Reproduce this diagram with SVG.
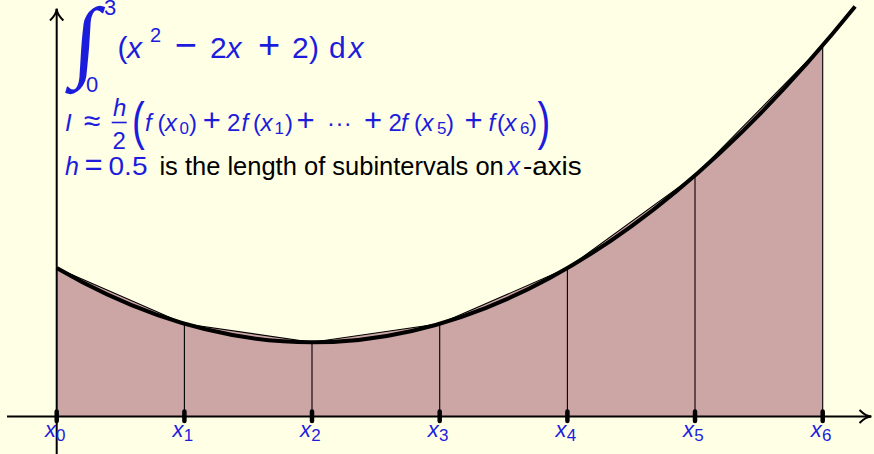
<svg xmlns="http://www.w3.org/2000/svg" width="874" height="454" viewBox="0 0 874 454">
<style>
.bg{fill:#FFFFE6}
.m{font-family:"Liberation Sans",Arial,sans-serif;fill:#1C1CDD}
.i{font-style:italic}
.c{text-anchor:middle}
.t{font-family:"Liberation Sans",Arial,sans-serif;fill:#000}
.v{stroke:#000;stroke-width:1.1;fill:none}
.tick{stroke:#000;stroke-width:4.5;stroke-linecap:round}
.ax{stroke:#000;stroke-width:2;fill:none}
</style>
<rect class="bg" x="0" y="0" width="874" height="454"/>
<g id="area">
<polygon points="56.7,416.5 56.7,268.1 184.4,323.75 312,342.3 439.7,323.75 567.4,268.1 695,175.35 822.7,45.5 822.7,416.5" fill="#CCA5A5" stroke="none"/>
<polyline class="v" points="56.7,268.1 184.4,323.75 312,342.3 439.7,323.75 567.4,268.1 695,175.35 822.7,45.5"/>
<line class="v" x1="184.4" y1="416.5" x2="184.4" y2="323.75"/>
<line class="v" x1="312" y1="416.5" x2="312" y2="342.3"/>
<line class="v" x1="439.7" y1="416.5" x2="439.7" y2="323.75"/>
<line class="v" x1="567.4" y1="416.5" x2="567.4" y2="268.1"/>
<line class="v" x1="695" y1="416.5" x2="695" y2="175.35"/>
<line class="v" x1="822.7" y1="416.5" x2="822.7" y2="45.5"/>
</g>
<g id="curve">
<path d="M56.7,268.1 Q455.9,500.1 855.1,6.6" fill="none" stroke="#000" stroke-width="4"/>
</g>
<g id="axes">
<line class="ax" x1="7" y1="416.5" x2="871" y2="416.5"/>
<path class="ax" d="M859.5,410 Q866,416.5 871.5,416.5 Q866,416.5 859.5,423"/>
<line class="ax" x1="56.7" y1="454" x2="56.7" y2="9"/>
<path class="ax" d="M50,20.5 Q56.7,14 56.7,8.5 Q56.7,14 63.4,20.5"/>
</g>
<g id="ticks">
<line class="tick" x1="56.7" y1="411.5" x2="56.7" y2="421"/>
<line class="tick" x1="184.4" y1="411.5" x2="184.4" y2="421"/>
<line class="tick" x1="312" y1="411.5" x2="312" y2="421"/>
<line class="tick" x1="439.7" y1="411.5" x2="439.7" y2="421"/>
<line class="tick" x1="567.4" y1="411.5" x2="567.4" y2="421"/>
<line class="tick" x1="695" y1="411.5" x2="695" y2="421"/>
<line class="tick" x1="822.7" y1="411.5" x2="822.7" y2="421"/>
</g>
<g id="labels" class="m" font-size="22">
<text x="45" y="436.7"><tspan class="i">x</tspan><tspan x="56" y="440.7" font-size="17">0</tspan></text>
<text x="172.5" y="436.7"><tspan class="i">x</tspan><tspan x="183.7" y="440.7" font-size="17">1</tspan></text>
<text x="300.1" y="436.7"><tspan class="i">x</tspan><tspan x="311.3" y="440.7" font-size="17">2</tspan></text>
<text x="427.8" y="436.7"><tspan class="i">x</tspan><tspan x="439" y="440.7" font-size="17">3</tspan></text>
<text x="555.5" y="436.7"><tspan class="i">x</tspan><tspan x="566.7" y="440.7" font-size="17">4</tspan></text>
<text x="683.1" y="436.7"><tspan class="i">x</tspan><tspan x="694.3" y="440.7" font-size="17">5</tspan></text>
<text x="810.8" y="436.7"><tspan class="i">x</tspan><tspan x="822" y="440.7" font-size="17">6</tspan></text>
</g>
<g id="integral" class="m">
<text x="64" y="70" font-size="90" font-family="Liberation Serif" transform="translate(79,47) skewX(-4) translate(-70,-47)">∫</text>
<text x="104" y="15" font-size="22">3</text>
<text x="86" y="91.7" font-size="22">0</text>
<text y="58" font-size="30"><tspan x="117.5">(</tspan><tspan x="127" class="i">x</tspan><tspan x="150" y="41.7" font-size="20">2</tspan><tspan x="185.8" y="58" class="c" font-size="38">−</tspan><tspan x="210">2</tspan><tspan x="226.5" class="i">x</tspan><tspan x="269.2" class="c" font-size="38">+</tspan><tspan x="292">2</tspan><tspan x="309">)</tspan><tspan x="329">d</tspan><tspan x="348.5" class="i">x</tspan></text>
</g>
<g id="formula" class="m" font-size="24">
<text y="131"><tspan x="65" class="i">I</tspan><tspan x="91.9" class="c" font-size="30">≈</tspan></text>
<text x="113" y="116" class="i">h</text>
<line x1="111.7" y1="122.5" x2="126.7" y2="122.5" stroke="#1C1CDD" stroke-width="1.6"/>
<text x="112.5" y="148.5">2</text>
<text x="132" y="139" font-size="51" transform="translate(132,0) scale(0.75,1) translate(-132,0)">(</text>
<text y="131"><tspan x="145" class="i">f</tspan><tspan x="157.5">(</tspan><tspan x="165" class="i">x</tspan><tspan x="179.5" y="134" font-size="17">0</tspan><tspan x="189" y="131">)</tspan><tspan x="211.7" class="c" font-size="31">+</tspan><tspan x="227">2</tspan><tspan x="241.5" class="i">f</tspan><tspan x="253">(</tspan><tspan x="260.5" class="i">x</tspan><tspan x="274.5" y="134" font-size="17">1</tspan><tspan x="285" y="131">)</tspan><tspan x="305.6" class="c" font-size="31">+</tspan><tspan x="331" class="c">·</tspan><tspan x="339.4" class="c">·</tspan><tspan x="347.8" class="c">·</tspan><tspan x="373.1" class="c" font-size="31">+</tspan><tspan x="388.5">2</tspan><tspan x="401" class="i">f</tspan><tspan x="414">(</tspan><tspan x="421.5" class="i">x</tspan><tspan x="437" y="134" font-size="17">5</tspan><tspan x="446" y="131">)</tspan><tspan x="473.5" class="c" font-size="31">+</tspan><tspan x="488.5" class="i">f</tspan><tspan x="497">(</tspan><tspan x="504.5" class="i">x</tspan><tspan x="520" y="134" font-size="17">6</tspan><tspan x="529" y="131">)</tspan></text>
<text x="537.5" y="139" font-size="51" transform="translate(537.5,0) scale(0.75,1) translate(-537.5,0)">)</text>
</g>
<g id="note" font-size="25">
<text class="m" y="174.8"><tspan x="65" class="i">h</tspan><tspan x="93.6" class="c" font-size="31">=</tspan><tspan x="108.5" y="174.8" textLength="39" lengthAdjust="spacingAndGlyphs">0.5</tspan></text>
<text class="t" x="159.4" y="174.8" textLength="344.4" lengthAdjust="spacingAndGlyphs">is the length of subintervals on</text>
<text class="m i" x="507.5" y="174.8">x</text>
<text class="t" x="522.9" y="174.8" textLength="58.8" lengthAdjust="spacingAndGlyphs">-axis</text>
</g>
</svg>
